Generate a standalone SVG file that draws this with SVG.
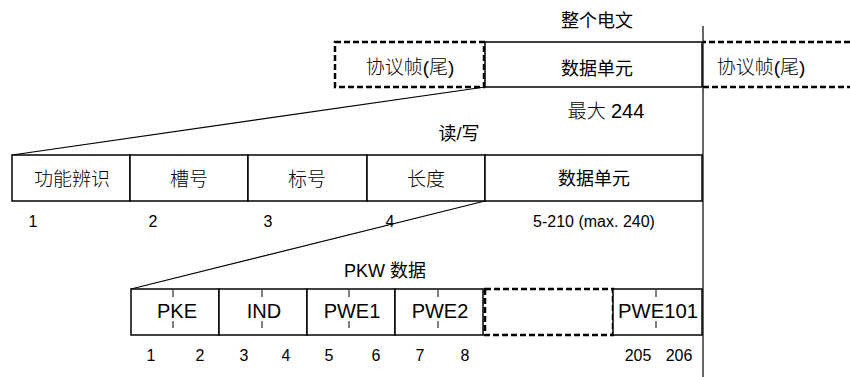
<svg xmlns="http://www.w3.org/2000/svg" width="850" height="377" viewBox="0 0 850 377">
<style>
.box{fill:#fff;stroke:#000;stroke-width:1.5}
.dash{fill:#fff;stroke:#000;stroke-width:2.5;stroke-dasharray:6,3}
.ln{stroke:#000;stroke-width:1.2;fill:none}
.tk{stroke:#000;stroke-width:1;fill:none}
.c{font-family:"Liberation Sans","Noto Sans CJK SC",sans-serif;font-size:19px;text-anchor:middle;font-weight:300;fill:#000}
.b{font-family:"Liberation Sans","Noto Sans CJK SC",sans-serif;font-size:18px;text-anchor:middle;font-weight:400;fill:#000}
.n{font-family:"Liberation Sans",sans-serif;font-size:16px;text-anchor:middle;fill:#000}
.p{font-family:"Liberation Sans",sans-serif;font-size:20px;text-anchor:middle;fill:#000}
</style>
<g id="connectors">
<line class="ln" x1="703" y1="26" x2="703" y2="377"/>
<line class="ln" x1="485" y1="87" x2="12" y2="155"/>
<line class="ln" x1="485" y1="201" x2="131" y2="289"/>
<path class="dash" d="M850,42 H703 M703,87 H850" fill="none"/>
</g>
<text class="b" x="597" y="27">整个电文</text>
<g id="n-frame-tail-left"><rect class="dash" x="335" y="42" width="149" height="45"/><text class="c" x="410" y="74">协议帧(尾)</text></g>
<g id="n-data-unit-top"><rect class="box" x="485" y="42" width="217" height="45"/><text class="b" x="597" y="75">数据单元</text></g>
<g id="n-frame-tail-right"><text class="c" x="761" y="74">协议帧(尾)</text></g>
<text class="c" x="606" y="118">最大 <tspan style="font-size:20px;font-weight:400">244</tspan></text>
<text class="b" x="459" y="140">读/写</text>
<g id="n-func"><rect class="box" x="12" y="155" width="118" height="46"/><text class="c" x="72" y="186">功能辨识</text></g>
<g id="n-slot"><rect class="box" x="130" y="155" width="118" height="46"/><text class="c" x="189" y="186">槽号</text></g>
<g id="n-index"><rect class="box" x="248" y="155" width="119" height="46"/><text class="c" x="307" y="186">标号</text></g>
<g id="n-length"><rect class="box" x="367" y="155" width="118" height="46"/><text class="c" x="426" y="186">长度</text></g>
<g id="n-data-unit-mid"><rect class="box" x="485" y="155" width="217" height="46"/><text class="b" x="594" y="185">数据单元</text></g>
<text class="n" x="33" y="227">1</text>
<text class="n" x="153" y="227">2</text>
<text class="n" x="268" y="227">3</text>
<text class="n" x="390" y="227">4</text>
<text class="n" x="594" y="227">5-210 (max. 240)</text>
<text class="b" x="385" y="277">PKW 数据</text>
<g id="n-pke"><rect class="box" x="131" y="289" width="88" height="46"/><line class="tk" x1="173" y1="290" x2="173" y2="297"/><line class="tk" x1="173" y1="321" x2="173" y2="328"/><text class="p" x="177" y="318">PKE</text></g>
<g id="n-ind"><rect class="box" x="219" y="289" width="88" height="46"/><line class="tk" x1="262" y1="290" x2="262" y2="297"/><line class="tk" x1="262" y1="321" x2="262" y2="328"/><text class="p" x="264" y="318">IND</text></g>
<g id="n-pwe1"><rect class="box" x="307" y="289" width="88" height="46"/><line class="tk" x1="349" y1="290" x2="349" y2="297"/><line class="tk" x1="349" y1="321" x2="349" y2="328"/><text class="p" x="352" y="318">PWE1</text></g>
<g id="n-pwe2"><rect class="box" x="395" y="289" width="88" height="46"/><line class="tk" x1="438" y1="290" x2="438" y2="297"/><line class="tk" x1="438" y1="321" x2="438" y2="328"/><text class="p" x="440" y="318">PWE2</text></g>
<g id="n-gap"><rect class="dash" x="485" y="289" width="128" height="46"/></g>
<g id="n-pwe101"><rect class="box" x="613" y="289" width="89" height="46"/><line class="tk" x1="656" y1="290" x2="656" y2="297"/><line class="tk" x1="656" y1="321" x2="656" y2="328"/><text class="p" x="658" y="318" textLength="80" lengthAdjust="spacingAndGlyphs">PWE101</text></g>
<text class="n" x="151" y="361">1</text>
<text class="n" x="200" y="361">2</text>
<text class="n" x="244" y="361">3</text>
<text class="n" x="286" y="361">4</text>
<text class="n" x="329" y="361">5</text>
<text class="n" x="376" y="361">6</text>
<text class="n" x="420" y="361">7</text>
<text class="n" x="465" y="361">8</text>
<text class="n" x="638" y="361">205</text>
<text class="n" x="679" y="361">206</text>
</svg>
